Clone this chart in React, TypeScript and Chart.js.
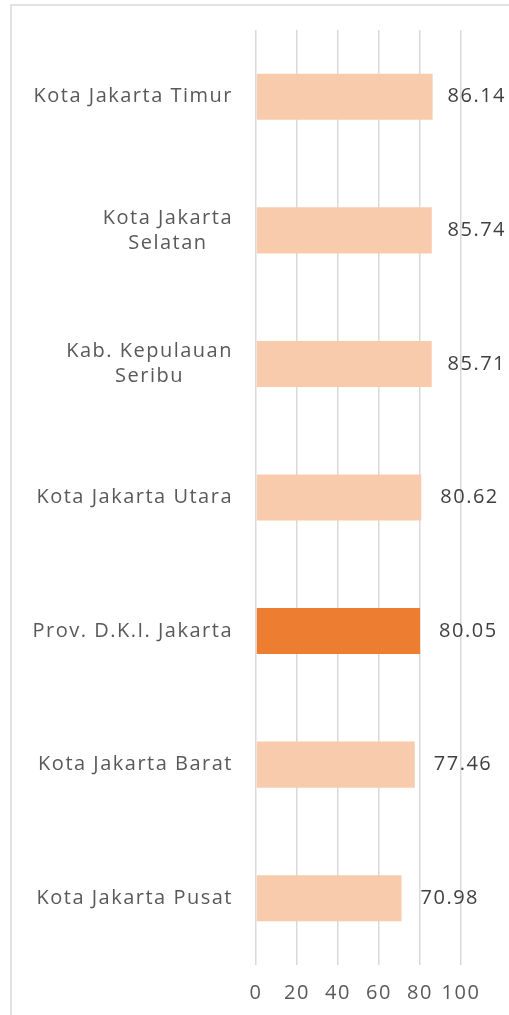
import React, { useEffect, useRef } from "react";
import { Chart, registerables } from "chart.js";

Chart.register(...registerables);

const categories: string[][] = [
  ["Kota Jakarta Timur"],
  ["Kota Jakarta", "Selatan"],
  ["Kab. Kepulauan", "Seribu"],
  ["Kota Jakarta Utara"],
  ["Prov. D.K.I. Jakarta"],
  ["Kota Jakarta Barat"],
  ["Kota Jakarta Pusat"],
];
const values = [86.14, 85.74, 85.71, 80.62, 80.05, 77.46, 70.98];
const highlightIndex = 4;
const xMin = 0;
const xMax = 100;
const xStep = 20;

const FONT_FAMILY = "'Open Sans', 'Noto Sans', sans-serif";
const FONT_SIZE = 20;
const SPACING = "1.5px";
const LIGHT = "#F8CBAD";
const STRONG = "#ED7D31";
const GRID = "#d9d9d9";
const TEXT = "#595959";
const VALUE_TEXT = "#404040";

const spacingPlugin = {
  id: "spacing",
  beforeUpdate(chart: any) {
    chart.ctx.letterSpacing = SPACING;
  },
  beforeLayout(chart: any) {
    chart.ctx.letterSpacing = SPACING;
  },
  beforeDraw(chart: any) {
    const ctx = chart.ctx;
    ctx.letterSpacing = SPACING;
    ctx.save();
    ctx.fillStyle = "#ffffff";
    ctx.fillRect(0, 0, chart.width, chart.height);
    ctx.strokeStyle = GRID;
    ctx.lineWidth = 1.5;
    ctx.strokeRect(11, 5, chart.width + 20, chart.height + 20);
    ctx.restore();
  },
};

const labelsPlugin = {
  id: "catLabels",
  afterDraw(chart: any) {
    const ctx = chart.ctx;
    const y = chart.scales.y;
    ctx.save();
    ctx.letterSpacing = SPACING;
    ctx.font = `${FONT_SIZE}px ${FONT_FAMILY}`;
    ctx.fillStyle = TEXT;
    ctx.textAlign = "center";
    ctx.textBaseline = "middle";
    categories.forEach((lines, i) => {
      const cy = y.getPixelForValue(i);
      const widths = lines.map((l) => ctx.measureText(l).width);
      const bw = Math.max(...widths);
      const cx = chart.chartArea.left - 23 - bw / 2;
      lines.forEach((l, j) => {
        ctx.fillText(l, cx, cy + (j - (lines.length - 1) / 2) * 25);
      });
    });
    ctx.restore();
  },
};

const valuePlugin = {
  id: "valueLabels",
  afterDatasetsDraw(chart: any) {
    const ctx = chart.ctx;
    const meta = chart.getDatasetMeta(0);
    ctx.save();
    ctx.letterSpacing = SPACING;
    ctx.font = `${FONT_SIZE}px ${FONT_FAMILY}`;
    ctx.fillStyle = VALUE_TEXT;
    ctx.textAlign = "left";
    ctx.textBaseline = "middle";
    meta.data.forEach((bar: any, i: number) => {
      const txt = values[i].toFixed(2);
      const w = ctx.measureText(txt).width;
      const x = Math.min(bar.x + 19, chart.width - 3 - w);
      ctx.fillText(txt, x, bar.y);
    });
    ctx.restore();
  },
};

export default function App() {
  const ref = useRef<HTMLCanvasElement | null>(null);
  useEffect(() => {
    if (!ref.current) return;
    const chart = new Chart(ref.current, {
      type: "bar",
      data: {
        labels: categories.map((c) => c.join(" ")),
        datasets: [
          {
            data: values,
            backgroundColor: values.map((_, i) => (i === highlightIndex ? STRONG : LIGHT)),
            borderWidth: 0,
            barPercentage: 0.345,
            categoryPercentage: 1,
          },
        ],
      },
      options: {
        indexAxis: "y",
        animation: false,
        responsive: false,
        devicePixelRatio: 1,
        layout: { padding: { top: 30, left: 256, right: 48, bottom: 0 } },
        plugins: {
          legend: { display: false },
          tooltip: { enabled: false },
        },
        scales: {
          y: {
            display: false,
          },
          x: {
            min: xMin,
            max: xMax,
            ticks: {
              stepSize: xStep,
              padding: 16,
              color: TEXT,
              font: { family: FONT_FAMILY, size: FONT_SIZE },
              maxRotation: 0,
              autoSkip: false,
            },
            grid: { color: GRID, lineWidth: 1.5, drawTicks: false },
            border: { display: false },
            afterFit: (s: any) => {
              s.height = 50;
            },
          },
        },
      },
      plugins: [spacingPlugin, labelsPlugin, valuePlugin],
    } as any);
    return () => chart.destroy();
  }, []);
  return (
    <div style={{ position: "absolute", left: 0, top: 0, width: 509, height: 1015, overflow: "hidden" }}>
      <canvas ref={ref} width={509} height={1015} style={{ display: "block", width: 509, height: 1015 }} />
    </div>
  );
}
